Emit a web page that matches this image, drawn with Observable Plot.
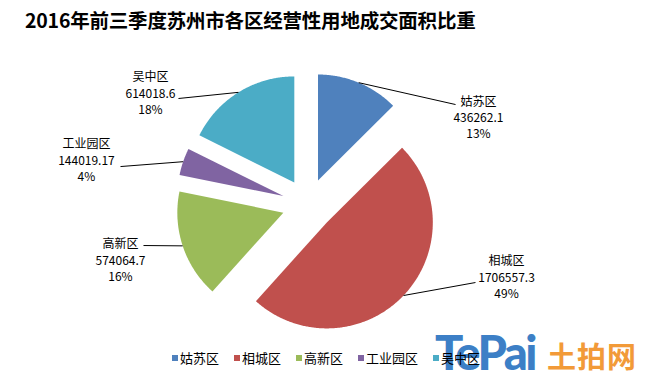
<!DOCTYPE html>
<html>
<head>
<meta charset="utf-8">
<script src="https://cdn.jsdelivr.net/npm/d3@7"></script>
<script src="https://cdn.jsdelivr.net/npm/@observablehq/plot@0.6"></script>
<style>
  html, body { margin: 0; padding: 0; background: #fff; }
  #page { position: relative; width: 651px; height: 387px; overflow: hidden; font-family: "Noto Sans CJK SC", sans-serif; }
  #title { position: absolute; left: 25px; top: 5px; font-size: 19.5px; font-weight: bold; color: #000; white-space: nowrap; letter-spacing: -0.2px; }
  #chart { position: absolute; left: 0; top: 40px; }
  #logo1 { position: absolute; left: 435px; top: 324px; font-family: Lato, sans-serif; font-weight: 900; font-size: 47px; color: #3C7FC6; letter-spacing: -2.5px; }
  #logo2 { position: absolute; left: 547px; top: 334px; font-size: 29px; font-weight: bold; color: #F29A38; letter-spacing: 1px; }
  #legend { position: absolute; left: 172px; top: 348px; display: flex; gap: 15px; font-size: 13px; color: #000; z-index: 2; }
  .item { display: flex; align-items: center; white-space: nowrap; }
  .sw { width: 6px; height: 6px; margin-right: 2px; }
</style>
</head>
<body>
<div id="page">
  <div id="title"></div>
  <div id="chart"></div>
  <div id="logo1">TePai</div>
  <div id="logo2">土拍网</div>
  <div id="legend"></div>
</div>
<script>
// ---- data ----
const title = "2016年前三季度苏州市各区经营性用地成交面积比重";
const names = ["姑苏区", "相城区", "高新区", "工业园区", "吴中区"];
const values = [436262.1, 1706557.3, 574064.7, 144019.17, 614018.6];
const pctLabels = ["13%", "49%", "16%", "4%", "18%"];
const colors = ["#4F81BD", "#C0504D", "#9BBB59", "#8064A2", "#4BACC6"];

// ---- layout (in pie-radius units, y up) ----
const explode = 0.245;
const labelAt = [[1.608, 0.830], [1.873, -0.679], [-1.769, -0.519], [-2.090, 0.425], [-1.486, 1.057]];
const leaderEnd = [[1.392, 0.943], [1.580, -0.736], [-1.552, -0.387], [-1.769, 0.358], [-1.222, 1.0]];

document.getElementById("title").textContent = title;

const rows = names.map((name, i) => ({name, value: values[i], pct: pctLabels[i]}));
const arcs = d3.pie().sort(null).value(d => d.value)(rows);

const poly = [];
const leaders = [];
const labels = [];
arcs.forEach((a, i) => {
  const mid = (a.startAngle + a.endAngle) / 2;
  const ox = explode * Math.sin(mid), oy = explode * Math.cos(mid);
  poly.push({name: a.data.name, x: ox, y: oy});
  const n = Math.max(2, Math.ceil((a.endAngle - a.startAngle) / (Math.PI / 360)));
  for (let k = 0; k <= n; k++) {
    const t = a.startAngle + (a.endAngle - a.startAngle) * k / n;
    poly.push({name: a.data.name, x: ox + Math.sin(t), y: oy + Math.cos(t)});
  }
  poly.push({name: a.data.name, x: ox, y: oy});
  leaders.push({x1: ox + Math.sin(mid), y1: oy + Math.cos(mid), x2: leaderEnd[i][0], y2: leaderEnd[i][1]});
  labels.push({x: labelAt[i][0], y: labelAt[i][1], text: `${a.data.name}\n${a.data.value}\n${a.data.pct}`});
});

const cx = 307.5, cy = 164, R = 106;
const chart = Plot.plot({
  width: 651,
  height: 300,
  margin: 0,
  style: {fontFamily: "'Noto Sans CJK SC', sans-serif", background: "transparent"},
  x: {domain: [-1, 1], range: [cx - R, cx + R], axis: null},
  y: {domain: [-1, 1], range: [cy + R, cy - R], axis: null},
  color: {domain: names, range: colors},
  marks: [
    Plot.line(poly, {x: "x", y: "y", z: "name", fill: "name", stroke: "none", curve: "linear"}),
    Plot.link(leaders, {x1: "x1", y1: "y1", x2: "x2", y2: "y2", stroke: "#000", strokeWidth: 1}),
    Plot.text(labels, {x: "x", y: "y", text: "text", fontSize: 12, lineHeight: 1.35, fill: "#000"})
  ]
});
document.getElementById("chart").appendChild(chart);

const legend = document.getElementById("legend");
names.forEach((n, i) => {
  const it = document.createElement("div");
  it.className = "item";
  const sw = document.createElement("span");
  sw.className = "sw";
  sw.style.background = colors[i];
  const tx = document.createElement("span");
  tx.textContent = n;
  it.appendChild(sw); it.appendChild(tx);
  legend.appendChild(it);
});
</script>
</body>
</html>
